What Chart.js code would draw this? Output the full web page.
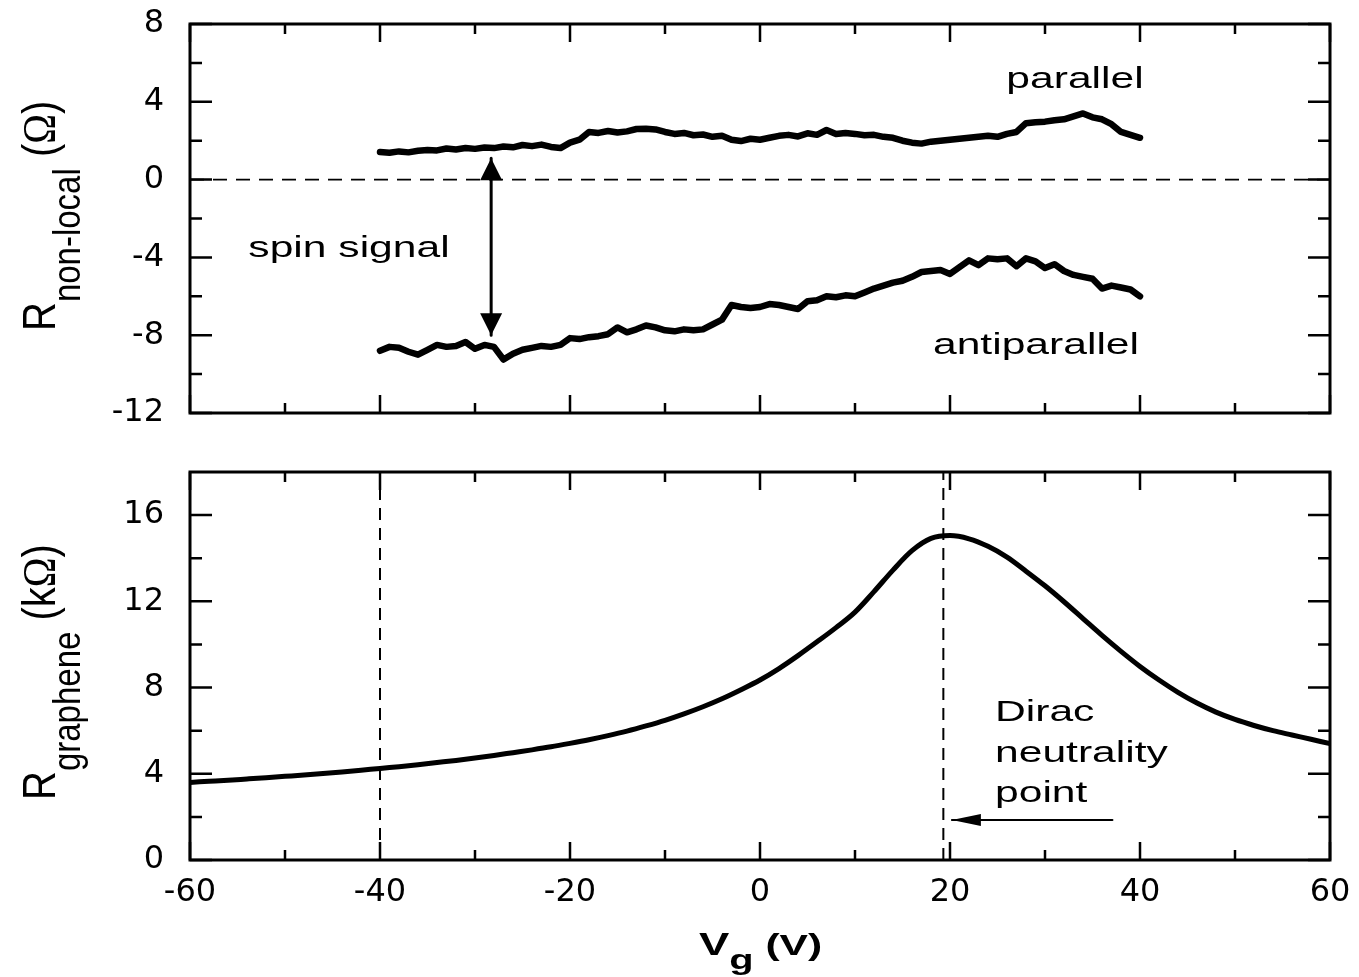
<!DOCTYPE html>
<html>
<head>
<meta charset="utf-8">
<script src="https://cdn.jsdelivr.net/npm/chart.js@4.4.1/dist/chart.umd.min.js"></script>
<style>
  html, body { margin: 0; padding: 0; background: #fff; }
  #wrap { position: relative; width: 1359px; height: 977px; }
  canvas { position: absolute; left: 0; }
  #topChart { top: 0; }
  #bottomChart { top: 440px; }
</style>
</head>
<body>
<div id="wrap">
  <canvas id="topChart" width="1359" height="440"></canvas>
  <canvas id="bottomChart" width="1359" height="537"></canvas>
</div>
<script>
// axis ticks
const vgTicks = [-60, -40, -20, 0, 20, 40, 60];
const vgMinor = [-50, -30, -10, 10, 30, 50];
const nlTicks = [-12, -8, -4, 0, 4, 8];
const nlMinor = [-10, -6, -2, 2, 6];
const grTicks = [0, 4, 8, 12, 16];
const grMinor = [2, 6, 10, 14];

// non-local resistance (Ohm) vs gate voltage
const vgSpin = [-40, -39, -38, -37, -36, -35, -34, -33, -32, -31, -30, -29, -28, -27, -26, -25, -24, -23, -22, -21,
  -20, -19, -18, -17, -16, -15, -14, -13, -12, -11, -10, -9, -8, -7, -6, -5, -4, -3, -2, -1,
  0, 1, 2, 3, 4, 5, 6, 7, 8, 9, 10, 11, 12, 13, 14, 15, 16, 17, 18, 19,
  20, 21, 22, 23, 24, 25, 26, 27, 28, 29, 30, 31, 32, 33, 34, 35, 36, 37, 38, 39, 40];
const rParallel = [1.42, 1.38, 1.45, 1.40, 1.48, 1.52, 1.50, 1.60, 1.55, 1.62, 1.58, 1.65, 1.62, 1.70, 1.66, 1.78, 1.72, 1.80, 1.68, 1.62,
  1.90, 2.05, 2.45, 2.40, 2.50, 2.42, 2.48, 2.60, 2.62, 2.58, 2.45, 2.35, 2.40, 2.28, 2.32, 2.20, 2.25, 2.05, 1.98, 2.10,
  2.05, 2.15, 2.25, 2.30, 2.22, 2.38, 2.30, 2.55, 2.35, 2.40, 2.35, 2.28, 2.30, 2.20, 2.15, 2.00, 1.90, 1.85, 1.95, 2.00,
  2.05, 2.10, 2.15, 2.20, 2.25, 2.20, 2.35, 2.45, 2.90, 2.95, 2.98, 3.05, 3.10, 3.25, 3.40, 3.20, 3.10, 2.85, 2.45, 2.30, 2.15];
const rAntiparallel = [-8.80, -8.60, -8.65, -8.85, -9.00, -8.75, -8.50, -8.60, -8.55, -8.35, -8.70, -8.50, -8.60, -9.25, -8.95, -8.75, -8.65, -8.55, -8.60, -8.50,
  -8.15, -8.20, -8.10, -8.05, -7.95, -7.60, -7.85, -7.70, -7.50, -7.60, -7.75, -7.80, -7.70, -7.75, -7.70, -7.45, -7.20, -6.45, -6.55, -6.60,
  -6.55, -6.40, -6.45, -6.55, -6.65, -6.25, -6.20, -6.00, -6.05, -5.95, -6.00, -5.80, -5.60, -5.45, -5.30, -5.20, -5.00, -4.75, -4.70, -4.65,
  -4.85, -4.50, -4.15, -4.40, -4.05, -4.10, -4.05, -4.45, -4.05, -4.20, -4.55, -4.35, -4.70, -4.90, -5.00, -5.10, -5.60, -5.45, -5.55, -5.65, -6.00];

// graphene resistance (kOhm) vs gate voltage
const vgSweep = [-60, -58, -56, -54, -52, -50, -48, -46, -44, -42, -40, -38, -36, -34, -32, -30, -28, -26, -24, -22,
  -20, -18, -16, -14, -12, -10, -8, -6, -4, -2, 0, 2, 4, 6, 8, 10, 12, 14, 16, 18,
  20, 22, 24, 26, 28, 30, 32, 34, 36, 38, 40, 42, 44, 46, 48, 50, 52, 54, 56, 58, 60];
const rGraphene = [3.60, 3.65, 3.70, 3.76, 3.82, 3.88, 3.94, 4.01, 4.08, 4.16, 4.25, 4.33, 4.42, 4.52, 4.62, 4.73, 4.85, 4.98, 5.11, 5.25,
  5.41, 5.58, 5.77, 5.98, 6.22, 6.48, 6.78, 7.11, 7.48, 7.90, 8.35, 8.88, 9.48, 10.12, 10.78, 11.50, 12.45, 13.45, 14.35, 14.92,
  15.05, 14.90, 14.55, 14.05, 13.40, 12.72, 11.98, 11.20, 10.42, 9.68, 8.98, 8.35, 7.78, 7.28, 6.86, 6.52, 6.24, 6.00, 5.80, 5.60, 5.40];

// markers
const diracVg = 19.3;
const startVg = -40;
const spinArrowVg = -28.3;
const spinArrowEnds = [1.1, -8.0];
const diracArrowVg = [37.1, 20.2];
const diracArrowR = 1.86;

const pts = (xs, ys) => xs.map((x, i) => ({ x: x, y: ys[i] }));
const SX = 1.42; // text in the figure is stretched horizontally

function stretchText(ctx, str, x, y, font, align) {
  ctx.save();
  ctx.font = font;
  const w = ctx.measureText(str).width * SX;
  let x0 = x;
  if (align === 'center') x0 = x - w / 2;
  if (align === 'right') x0 = x - w;
  ctx.translate(x0, y);
  ctx.scale(SX, 1);
  ctx.textAlign = 'left';
  ctx.textBaseline = 'alphabetic';
  ctx.fillStyle = '#000';
  ctx.fillText(str, 0, 0);
  ctx.restore();
  return x0 + w;
}

// rotated axis title: pieces = [[text, font, baselineOffset], ...]
function yTitle(ctx, x, y, pieces) {
  ctx.save();
  ctx.translate(x, y);
  ctx.scale(1.15, 1);
  ctx.rotate(-Math.PI / 2);
  ctx.fillStyle = '#000';
  ctx.textBaseline = 'alphabetic';
  let pos = 0;
  pieces.forEach(p => {
    ctx.font = p[1];
    ctx.fillText(p[0], pos, p[2]);
    pos += ctx.measureText(p[0]).width;
  });
  ctx.restore();
}

function triangle(ctx, tip, dx, dy, len, half) {
  // dx,dy: unit direction the arrow points to
  ctx.beginPath();
  ctx.moveTo(tip.x, tip.y);
  ctx.lineTo(tip.x - dx * len - dy * half, tip.y - dy * len + dx * half);
  ctx.lineTo(tip.x - dx * len + dy * half, tip.y - dy * len - dx * half);
  ctx.closePath();
  ctx.fill();
}

function frameTicks(xMajor, xMinor, yMajor, yMinor) {
  return {
    id: 'frameTicks',
    afterDraw(chart) {
      const { ctx, chartArea: a, scales: { x, y } } = chart;
      ctx.save();
      ctx.strokeStyle = '#000';
      ctx.lineWidth = 2.5;
      ctx.beginPath();
      const xt = (vals, len) => vals.forEach(v => {
        const px = x.getPixelForValue(v);
        ctx.moveTo(px, a.bottom); ctx.lineTo(px, a.bottom - len);
        ctx.moveTo(px, a.top); ctx.lineTo(px, a.top + len);
      });
      const yt = (vals, len) => vals.forEach(v => {
        const py = y.getPixelForValue(v);
        ctx.moveTo(a.left, py); ctx.lineTo(a.left + len, py);
        ctx.moveTo(a.right, py); ctx.lineTo(a.right - len, py);
      });
      xt(xMajor, 18); xt(xMinor, 10);
      yt(yMajor, 22); yt(yMinor, 12);
      ctx.stroke();
      ctx.lineWidth = 3;
      ctx.strokeRect(a.left, a.top, a.right - a.left, a.bottom - a.top);
      ctx.restore();
    }
  };
}

function scaleX(ticks, showLabels, height) {
  return {
    type: 'linear', min: -60, max: 60,
    grid: { display: false, drawTicks: false },
    border: { display: false },
    ticks: { display: showLabels, color: '#000', padding: 13, maxRotation: 0,
      font: { family: 'DejaVu Sans', size: 32 } },
    afterBuildTicks(s) { s.ticks = ticks.map(v => ({ value: v })); },
    afterFit(s) { s.height = height; s.paddingLeft = 0; s.paddingRight = 0; }
  };
}

function scaleY(min, max, ticks) {
  return {
    min: min, max: max,
    grid: { display: false, drawTicks: false },
    border: { display: false },
    ticks: { color: '#000', padding: 26, font: { family: 'DejaVu Sans', size: 32 } },
    afterBuildTicks(s) { s.ticks = ticks.map(v => ({ value: v })); },
    afterFit(s) { s.width = 190; s.paddingTop = 0; s.paddingBottom = 0; }
  };
}

const baseOptions = (padTop, xs, ys) => ({
  responsive: false,
  animation: false,
  devicePixelRatio: 1,
  layout: { autoPadding: false, padding: { top: padTop, right: 29, left: 0, bottom: 0 } },
  plugins: { legend: { display: false }, tooltip: { enabled: false } },
  elements: { point: { radius: 0 } },
  scales: { x: xs, y: ys }
});

const topLabels = {
  id: 'topLabels',
  afterDraw(chart) {
    const { ctx, scales: { x, y } } = chart;
    stretchText(ctx, 'parallel', 1075, 88, '30px "Liberation Sans"', 'center');
    stretchText(ctx, 'antiparallel', 1036, 354, '30px "Liberation Sans"', 'center');
    stretchText(ctx, 'spin signal', 349, 257, '30px "Liberation Sans"', 'center');
    // double arrow
    ctx.save();
    ctx.fillStyle = '#000';
    const ax = x.getPixelForValue(spinArrowVg);
    triangle(ctx, { x: ax, y: y.getPixelForValue(spinArrowEnds[0]) }, 0, -1, 22, 11);
    triangle(ctx, { x: ax, y: y.getPixelForValue(spinArrowEnds[1]) }, 0, 1, 22, 11);
    ctx.restore();
    yTitle(ctx, 55, 331, [
      ['R', '40px "Liberation Sans"', 0],
      ['non-local', '33px "Liberation Sans"', 22],
      [' (', '40px "Liberation Sans"', 0],
      ['\u03A9', '40px "Liberation Serif"', 0],
      [')', '40px "Liberation Sans"', 0]
    ]);
  }
};

const bottomLabels = {
  id: 'bottomLabels',
  afterDraw(chart) {
    const { ctx, scales: { x, y } } = chart;
    ctx.save();
    ctx.fillStyle = '#000';
    triangle(ctx, { x: x.getPixelForValue(diracArrowVg[1]), y: y.getPixelForValue(diracArrowR) }, -1, 0, 29, 6);
    ctx.restore();
    stretchText(ctx, 'Dirac', 995, 281, '30px "Liberation Sans"', 'left');
    stretchText(ctx, 'neutrality', 995, 322, '30px "Liberation Sans"', 'left');
    stretchText(ctx, 'point', 995, 362, '30px "Liberation Sans"', 'left');
    let px = stretchText(ctx, 'V', 699, 515, 'bold 32px "Liberation Sans"', 'left');
    px = stretchText(ctx, 'g', px, 529, 'bold 28px "Liberation Sans"', 'left');
    stretchText(ctx, ' (V)', px, 515, 'bold 30px "Liberation Sans"', 'left');
    yTitle(ctx, 55, 360, [
      ['R', '40px "Liberation Sans"', 0],
      ['graphene', '33px "Liberation Sans"', 22],
      [' (k', '40px "Liberation Sans"', 0],
      ['\u03A9', '40px "Liberation Serif"', 0],
      [')', '40px "Liberation Sans"', 0]
    ]);
  }
};

const line = (data, width, extra) => Object.assign({
  data: data, borderColor: '#000', borderWidth: width, pointRadius: 0,
  borderJoinStyle: 'round', borderCapStyle: 'round', fill: false
}, extra || {});

new Chart(document.getElementById('topChart'), {
  type: 'line',
  data: {
    datasets: [
      line([{ x: -60, y: 0 }, { x: 60, y: 0 }], 1.8, { borderDash: [14, 9], borderCapStyle: 'butt' }),
      line([{ x: spinArrowVg, y: spinArrowEnds[0] }, { x: spinArrowVg, y: spinArrowEnds[1] }], 3),
      line(pts(vgSpin, rParallel), 6.5),
      line(pts(vgSpin, rAntiparallel), 6.5)
    ]
  },
  options: baseOptions(24, scaleX(vgTicks, false, 27), scaleY(-12, 8, nlTicks)),
  plugins: [frameTicks(vgTicks, vgMinor, nlTicks, nlMinor), topLabels]
});

new Chart(document.getElementById('bottomChart'), {
  type: 'line',
  data: {
    datasets: [
      line([{ x: startVg, y: 0 }, { x: startVg, y: 18 }], 2, { borderDash: [12, 8], borderCapStyle: 'butt' }),
      line([{ x: diracVg, y: 0 }, { x: diracVg, y: 18 }], 2, { borderDash: [12, 8], borderCapStyle: 'butt' }),
      line([{ x: diracArrowVg[0], y: diracArrowR }, { x: diracArrowVg[1], y: diracArrowR }], 2),
      line(pts(vgSweep, rGraphene), 5, { cubicInterpolationMode: 'monotone' })
    ]
  },
  options: baseOptions(32, scaleX(vgTicks, true, 117), scaleY(0, 18, grTicks)),
  plugins: [frameTicks(vgTicks, vgMinor, grTicks, grMinor), bottomLabels]
});
</script>
</body>
</html>
